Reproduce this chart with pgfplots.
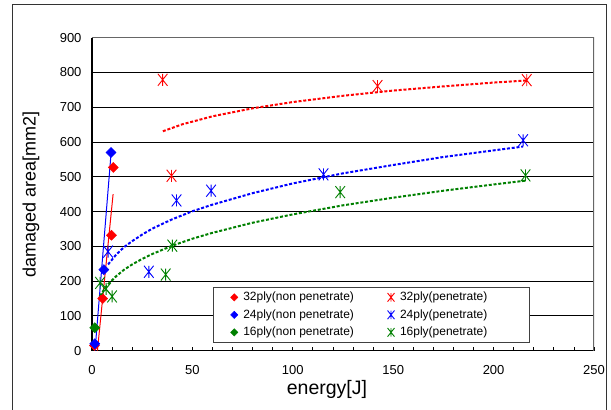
\documentclass[border=0pt]{standalone}
\usepackage{fontspec}
\setmainfont{Liberation Sans}
\usepackage{pgfplots}
\pgfplotsset{compat=1.18}

\definecolor{xlred}{RGB}{255,0,0}
\definecolor{xlblue}{RGB}{0,0,255}
\definecolor{xlgreen}{RGB}{0,128,0}

% Excel-like markers
\pgfdeclareplotmark{xlstar}{%
  \pgfpathmoveto{\pgfqpoint{-0.8\pgfplotmarksize}{-\pgfplotmarksize}}%
  \pgfpathlineto{\pgfqpoint{0.8\pgfplotmarksize}{\pgfplotmarksize}}%
  \pgfpathmoveto{\pgfqpoint{-0.8\pgfplotmarksize}{\pgfplotmarksize}}%
  \pgfpathlineto{\pgfqpoint{0.8\pgfplotmarksize}{-\pgfplotmarksize}}%
  \pgfpathmoveto{\pgfqpoint{0pt}{-\pgfplotmarksize}}%
  \pgfpathlineto{\pgfqpoint{0pt}{\pgfplotmarksize}}%
  \pgfusepathqstroke}
\pgfdeclareplotmark{xldiamond}{%
  \pgfpathmoveto{\pgfqpoint{0pt}{\pgfplotmarksize}}%
  \pgfpathlineto{\pgfqpoint{\pgfplotmarksize}{0pt}}%
  \pgfpathlineto{\pgfqpoint{0pt}{-\pgfplotmarksize}}%
  \pgfpathlineto{\pgfqpoint{-\pgfplotmarksize}{0pt}}%
  \pgfpathclose
  \pgfusepathqfillstroke}

\pgfplotsset{
  xllegend/.style={legend image code/.code={%
    \path[draw=none,fill=none] (0pt,-1pt) rectangle (14pt,1pt);
    \draw[only marks,every mark/.append style={scale=0.72},##1]
      plot coordinates {(6pt,0pt)};}},
  nonpen/.style={only marks, mark=xldiamond, mark size=5pt, color=#1,
    mark options={fill=#1, draw=#1, line width=0.5pt}, xllegend},
  pen/.style={only marks, mark=xlstar, mark size=6pt, color=#1,
    mark options={draw=#1, line width=0.9pt}, xllegend},
  trend/.style={#1, line width=2pt, dash pattern=on 3pt off 1.8pt, forget plot, no marks},
  fit/.style={#1, line width=1pt, forget plot, no marks},
}

\begin{document}
\begin{tikzpicture}[x=1pt,y=1pt]
\useasboundingbox (0,0) rectangle (611,410);
\draw[line width=1pt, black!80] (12,0) -- (12,405) -- (606,405) -- (606,0);
\begin{axis}[
  at={(92pt,59.3pt)}, anchor=south west,
  scale only axis, width=502pt, height=313pt,
  xmin=0, xmax=250, ymin=0, ymax=900,
  xtick={0,50,...,250}, minor x tick num=4,
  ytick={0,100,...,900},
  axis x line*=bottom, axis y line*=left,
  axis line style={-, line width=1.2pt, black},
  tick align=inside, major tick length=4pt, minor tick length=4pt,
  x tick style={black, line width=0.8pt}, ytick style={draw=none},
  ymajorgrids, y grid style={black, line width=1pt},
  tick label style={font=\fontsize{13}{15}\selectfont},
  xticklabel style={yshift=-11pt},
  yticklabel style={xshift=-7pt},
  /pgf/number format/assume math mode=true,
  xlabel={energy[J]}, ylabel={damaged area[mm2]},
  xlabel style={font=\fontsize{19.5}{22}\selectfont, at={(axis description cs:0.468,-0.1415)}, anchor=base},
  ylabel style={font=\fontsize{18}{21}\selectfont, at={(axis description cs:-0.1215,0.5)}, anchor=center},
  legend columns=2,
  legend cell align=left,
  legend style={at={(0.2404,0.2045)}, anchor=north west, draw=black!75, line width=1.2pt,
    fill=white, font=\fontsize{12}{14}\selectfont, inner xsep=15pt, inner ysep=3.3pt,
    row sep=4pt, nodes={inner sep=1pt, text height=9pt, text depth=2.5pt},
    /tikz/column 2/.style={column sep=30pt}},
]
\addplot[nonpen=xlred] coordinates {(1.2,15) (5.3,150) (9.7,332) (10.6,527)};
\addplot[pen=xlred] coordinates {(35.2,779) (39.6,503) (142.2,761) (216.5,778)};
\addplot[nonpen=xlblue] coordinates {(1.4,20) (5.9,233) (9.5,570)};
\addplot[pen=xlblue] coordinates {(8,285) (28.3,227) (42.1,432) (59.3,460) (115.3,507) (214.7,605)};
\addplot[nonpen=xlgreen] coordinates {(1.4,66)};
\addplot[pen=xlgreen] coordinates {(4,195) (7,178) (10,156) (36.7,219) (40,302) (123.6,456) (215.9,504)};

% linear trend lines (non penetrate)
\addplot[fit=xlred] coordinates {(2.7,0) (10.5,450)};
\addplot[fit=xlblue] coordinates {(1.5,0) (9.5,568)};

% fitted trend lines (penetrate), read off the chart
\addplot[trend=xlred] coordinates {(35.3,631) (45,651) (60,674) (80,697) (100,715) (125,733)
  (150,748) (175,760) (200,771) (216.5,777)};
\addplot[trend=xlblue] coordinates {(8,248) (12,276) (16,298) (20,315) (25,334) (30,351) (40,378)
  (50,401) (60,420) (80,453) (100,481) (125,510) (150,534) (175,557) (200,576) (214.7,587)};
\addplot[trend=xlgreen] coordinates {(4,157) (6,176) (8,191) (12,214) (16,233) (20,248) (25,264)
  (30,278) (40,302) (50,322) (60,339) (80,368) (100,392) (125,418) (150,440) (175,460)
  (200,478) (215.9,489)};

\draw[black!60, line width=1.2pt] (rel axis cs:0,1) -- (rel axis cs:1,1) -- (rel axis cs:1,0);

\legend{32ply(non penetrate), 32ply(penetrate)\hspace*{26pt}, 24ply(non penetrate),
  24ply(penetrate)\hspace*{26pt}, 16ply(non penetrate), 16ply(penetrate)\hspace*{26pt}}
\end{axis}
\end{tikzpicture}
\end{document}
